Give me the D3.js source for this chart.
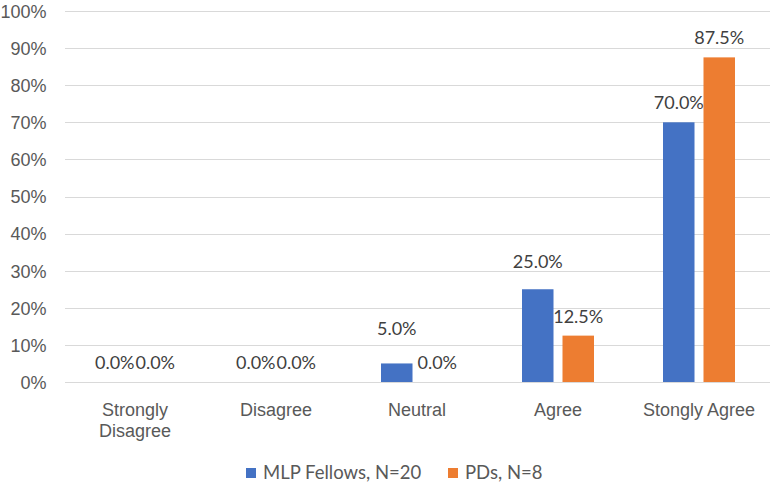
<!DOCTYPE html>
<html><head><meta charset="utf-8">
<script src="https://cdn.jsdelivr.net/npm/d3@7"></script>
<style>
html,body{margin:0;padding:0;background:#fff;}
svg{display:block;font-family:Lato,"Noto Sans",sans-serif;}
</style></head>
<body>
<svg id="chart" width="770" height="488"></svg>
<script>
const categories = ["Strongly Disagree", "Disagree", "Neutral", "Agree", "Stongly Agree"];
const seriesNames = ["MLP Fellows, N=20", "PDs, N=8"];
const mlpFellows = [0.0, 0.0, 0.05, 0.25, 0.70];
const pds = [0.0, 0.0, 0.0, 0.125, 0.875];
const yTicks = [0, 0.1, 0.2, 0.3, 0.4, 0.5, 0.6, 0.7, 0.8, 0.9, 1.0];
const colors = ["#4472C4", "#ED7D31"];

const seriesValues = [mlpFellows, pds];
const svg = d3.select("#chart");
const m = {left: 64.5, right: 0.5, top: 11, bottom: 106};
const W = 770, H = 488;

const x0 = d3.scaleBand().domain(categories).range([m.left, W - m.right]).padding(0);
const x1 = d3.scaleBand().domain(seriesNames).range([0, 72]).paddingInner(0.222);
const y = d3.scaleLinear().domain([0, 1]).range([H - m.bottom, m.top]);

// gridlines
const yAxis = d3.axisLeft(y).tickValues(yTicks).tickFormat(d3.format(".0%"))
  .tickSize(-(W - m.left - m.right)).tickPadding(18);
const gy = svg.append("g").attr("transform", `translate(${m.left},0)`).call(yAxis);
gy.select(".domain").remove();
gy.selectAll(".tick line").attr("stroke", "#d9d9d9").attr("stroke-width", 1)
  .attr("shape-rendering", "crispEdges");
gy.selectAll(".tick text").attr("fill", "#595959").style("font-size", "18px")
  .attr("dy", "0.35em");

// bars
const groups = svg.append("g").selectAll("g").data(categories).join("g")
  .attr("transform", d => `translate(${x0(d) + x0.bandwidth() / 2 - 36},0)`);

const barData = (c, i) => seriesNames.map((s, k) => ({s, k, v: seriesValues[k][i]}));

groups.selectAll("rect").data(barData).join("rect")
  .attr("x", d => x1(d.s))
  .attr("width", x1.bandwidth())
  .attr("y", d => y(d.v))
  .attr("height", d => y(0) - y(d.v))
  .attr("fill", d => colors[d.k]);

// label nudge (manual label moves in the original)
const nudge = (ci, k) => (k === 0 && ci === 2) ? 15 : (k === 0 && ci === 3) ? 8 : 0;

groups.each(function(c, i) {
  d3.select(this).selectAll("text.lbl").data(barData(c, i)).join("text")
    .attr("class", "lbl")
    .attr("x", d => x1(d.s) + x1.bandwidth() / 2)
    .attr("y", d => y(d.v) - 13 - nudge(i, d.k))
    .attr("text-anchor", "middle")
    .attr("fill", "#404040")
    .style("font-size", "18px")
    .text(d => d3.format(".1%")(d.v));
});

// x axis labels
const xAxis = d3.axisBottom(x0).tickSize(0).tickPadding(0);
const gx = svg.append("g").attr("transform", `translate(0,${y(0)})`).call(xAxis);
gx.select(".domain").remove();
gx.selectAll(".tick text").attr("fill", "#595959").style("font-size", "18px")
  .attr("dy", null).attr("y", null)
  .each(function(d) {
    const t = d3.select(this);
    const words = d.split(" ");
    t.text(null);
    const maxW = 125;
    let lines = [], line = [];
    const tmp = t.append("tspan");
    words.forEach(w => {
      line.push(w);
      tmp.text(line.join(" "));
      if (tmp.node().getComputedTextLength() > maxW && line.length > 1) {
        line.pop(); lines.push(line.join(" ")); line = [w];
      }
    });
    lines.push(line.join(" "));
    tmp.remove();
    lines.forEach((l, li) => {
      t.append("tspan").attr("x", 0).attr("y", 34 + li * 21).text(l);
    });
  });

// legend
const legend = svg.append("g");
const legendX = [246, 448];
seriesNames.forEach((s, k) => {
  legend.append("rect").attr("x", legendX[k]).attr("y", 468).attr("width", 10).attr("height", 10)
    .attr("fill", colors[k]);
  legend.append("text").attr("x", legendX[k] + 17).attr("y", 479)
    .attr("fill", "#595959").style("font-size", "18.5px").text(s);
});
</script>
</body></html>
